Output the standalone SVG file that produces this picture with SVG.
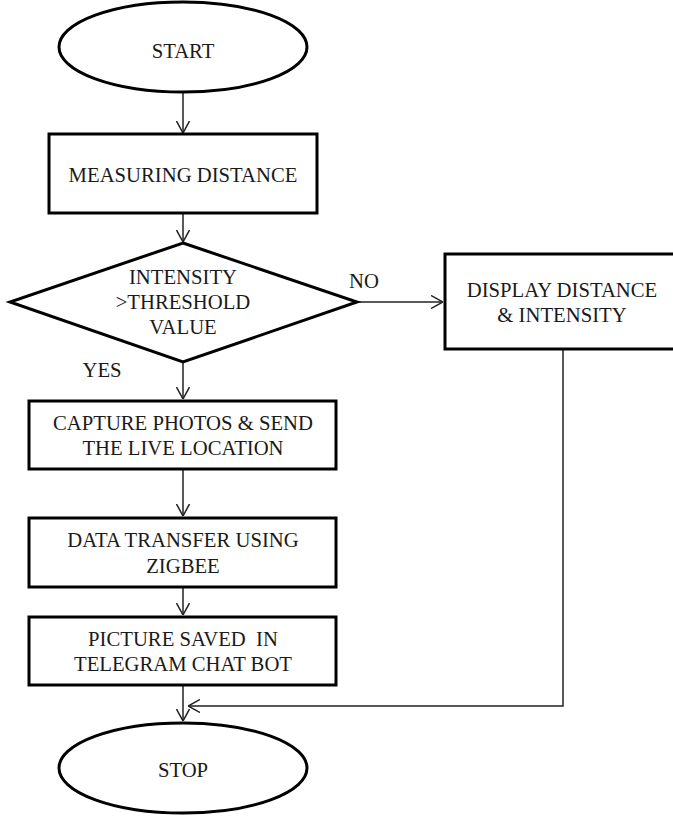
<svg xmlns="http://www.w3.org/2000/svg" width="673" height="816" viewBox="0 0 673 816">
<defs>
<style>
.shape{fill:#fff;stroke:#000;stroke-width:3}
.conn{fill:none;stroke:#222;stroke-width:1.5}
.t{font-family:'Liberation Serif','Times New Roman',serif;font-size:20.7px;fill:#1a1a1a;text-anchor:middle}
</style>
<marker id="arr" viewBox="0 0 12 14" refX="12" refY="7" markerWidth="12" markerHeight="14" markerUnits="userSpaceOnUse" orient="auto">
<path d="M0,0.5 L12,7 L0,13.5" fill="none" stroke="#222" stroke-width="1.5"/>
</marker>
</defs>
<rect width="673" height="816" fill="#fff"/>
<g id="connectors">
<line class="conn" x1="183" y1="92" x2="183" y2="133" marker-end="url(#arr)"/>
<line class="conn" x1="183" y1="213" x2="183" y2="242" marker-end="url(#arr)"/>
<line class="conn" x1="357" y1="302" x2="443" y2="302" marker-end="url(#arr)"/>
<line class="conn" x1="183" y1="362" x2="183" y2="399" marker-end="url(#arr)"/>
<line class="conn" x1="183" y1="469" x2="183" y2="516" marker-end="url(#arr)"/>
<line class="conn" x1="183" y1="587" x2="183" y2="615" marker-end="url(#arr)"/>
<line class="conn" x1="183" y1="685" x2="183" y2="721" marker-end="url(#arr)"/>
<polyline class="conn" points="563,350 563,706 188,706" marker-end="url(#arr)"/>
<text class="t" x="364" y="288">NO</text>
<text class="t" x="102" y="377">YES</text>
</g>
<g id="start">
<ellipse class="shape" cx="183" cy="47" rx="124" ry="45"/>
<text class="t" x="183" y="58">START</text>
</g>
<g id="measure">
<rect class="shape" x="49" y="134" width="268" height="79"/>
<text class="t" x="183" y="182">MEASURING DISTANCE</text>
</g>
<g id="decision">
<polygon class="shape" points="183,243 357,302 183,362 10,302"/>
<text class="t" x="183" y="284">INTENSITY</text>
<text class="t" x="183" y="309">&gt;THRESHOLD</text>
<text class="t" x="183" y="334">VALUE</text>
</g>
<g id="display">
<rect class="shape" x="445" y="254" width="240" height="95"/>
<text class="t" x="562" y="297">DISPLAY DISTANCE</text>
<text class="t" x="562" y="322">&amp; INTENSITY</text>
</g>
<g id="capture">
<rect class="shape" x="29" y="401" width="307" height="68"/>
<text class="t" x="183" y="430">CAPTURE PHOTOS &amp; SEND</text>
<text class="t" x="183" y="455">THE LIVE LOCATION</text>
</g>
<g id="transfer">
<rect class="shape" x="29" y="518" width="307" height="69"/>
<text class="t" x="183" y="547">DATA TRANSFER USING</text>
<text class="t" x="183" y="573">ZIGBEE</text>
</g>
<g id="saved">
<rect class="shape" x="29" y="617" width="307" height="68"/>
<text class="t" x="183" y="646" xml:space="preserve">PICTURE SAVED  IN</text>
<text class="t" x="183" y="671">TELEGRAM CHAT BOT</text>
</g>
<g id="stop">
<ellipse class="shape" cx="183" cy="768" rx="124" ry="45"/>
<text class="t" x="183" y="777">STOP</text>
</g>
</svg>
